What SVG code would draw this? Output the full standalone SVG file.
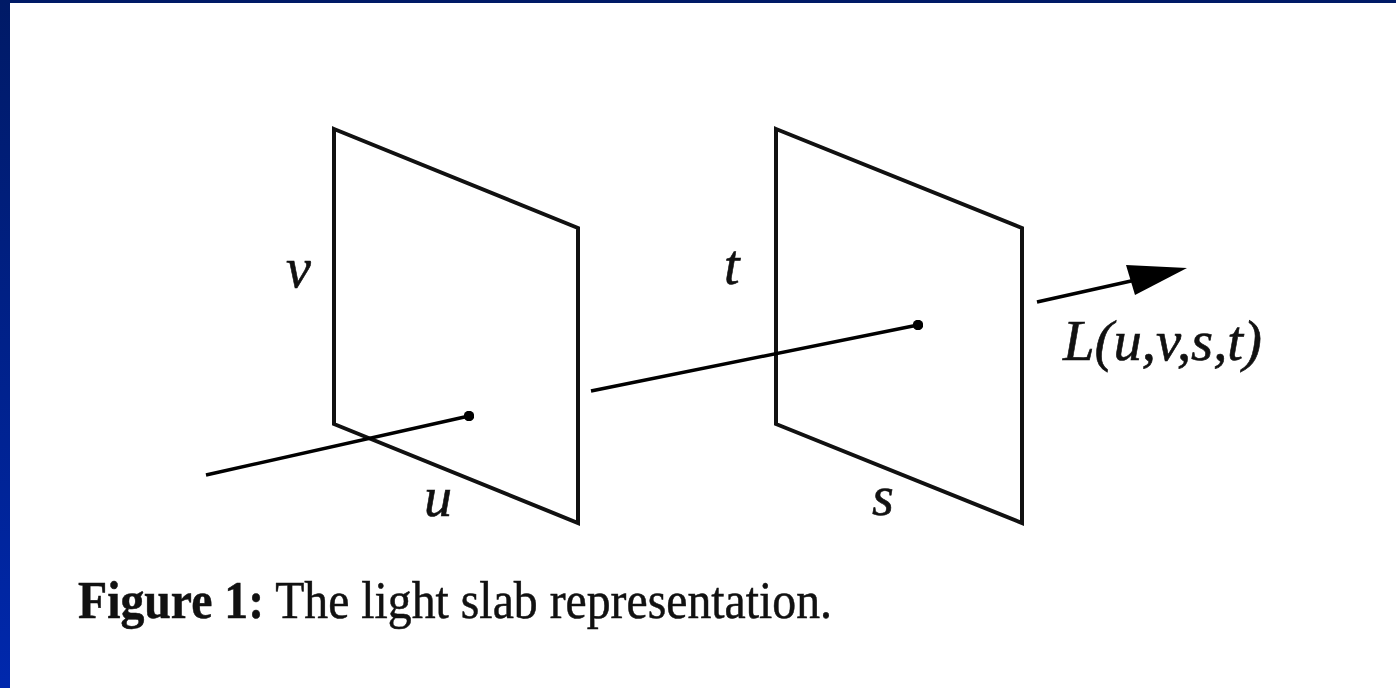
<svg xmlns="http://www.w3.org/2000/svg" width="1396" height="688" viewBox="0 0 1396 688">
  <defs>
    <linearGradient id="edge" x1="0" y1="0" x2="0" y2="1">
      <stop offset="0" stop-color="#001a66"/>
      <stop offset="1" stop-color="#0028ad"/>
    </linearGradient>
    <marker id="dot" viewBox="0 0 10 10" refX="5" refY="5" markerWidth="3" markerHeight="3" markerUnits="strokeWidth">
      <circle cx="5" cy="5" r="5" fill="#000"/>
    </marker>
  </defs>
  <style>
    .panel { fill: none; stroke: #111; stroke-width: 4; stroke-linejoin: miter; }
    .ray { fill: none; stroke: #000; stroke-width: 3.5; }
    .lbl { font-family: "Liberation Serif", "Times New Roman", serif; font-style: italic; font-size: 56px; fill: #111; stroke: #111; stroke-width: 0.6; }
    .cap { font-family: "Liberation Serif", "Times New Roman", serif; font-size: 52px; fill: #111; stroke: #111; stroke-width: 0.5; }
  </style>
  <rect x="0" y="0" width="1396" height="688" fill="#ffffff"/>
  <rect x="0" y="0" width="1396" height="3" fill="#001a66"/>
  <rect x="0" y="0" width="10" height="688" fill="url(#edge)"/>

  <g id="plane-uv">
    <polygon class="panel" points="334,129 578,228 578,523 334,424"/>
    <text class="lbl" x="286" y="287">v</text>
    <text class="lbl" x="424" y="516">u</text>
  </g>
  <g id="plane-st">
    <polygon class="panel" points="776,129 1022,228 1022,523 776,424"/>
    <text class="lbl" x="724" y="284">t</text>
    <text class="lbl" x="872" y="515">s</text>
  </g>
  <g id="connectors">
    <line class="ray" x1="206" y1="475" x2="469" y2="416" marker-end="url(#dot)"/>
    <line class="ray" x1="591" y1="391" x2="918" y2="325" marker-end="url(#dot)"/>
    <line class="ray" x1="1037" y1="302" x2="1140" y2="279"/>
    <polygon points="1126,265 1187,268 1135,295" fill="#000"/>
  </g>
  <g id="label-L">
    <text class="lbl" x="1063" y="360" textLength="199" lengthAdjust="spacingAndGlyphs">L(u,v,s,t)</text>
  </g>
  <g id="caption">
    <text class="cap" x="78" y="618" textLength="754" lengthAdjust="spacingAndGlyphs"><tspan font-weight="bold">Figure 1:</tspan> The light slab representation.</text>
  </g>
</svg>
